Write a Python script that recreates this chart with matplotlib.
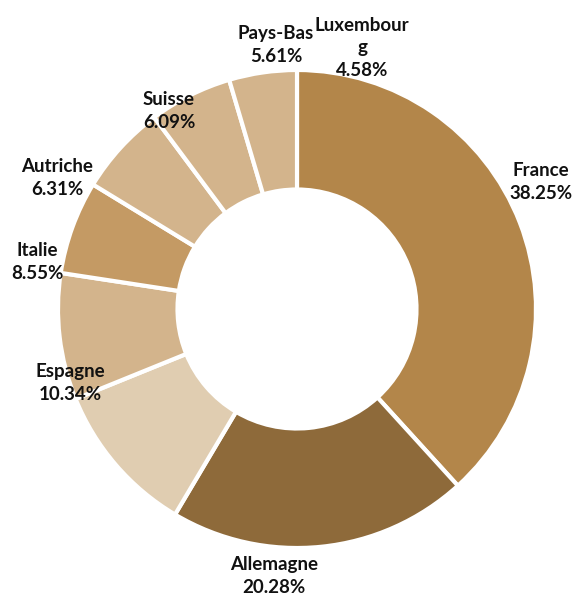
import matplotlib
matplotlib.use("Agg")
import matplotlib.pyplot as plt

countries = ["France", "Allemagne", "Espagne", "Italie", "Autriche", "Suisse", "Pays-Bas", "Luxembourg"]
shares = [38.25, 20.28, 10.34, 8.55, 6.31, 6.09, 5.61, 4.58]
label_text = ["France", "Allemagne", "Espagne", "Italie", "Autriche", "Suisse", "Pays-Bas", "Luxembour\ng"]
colors = ["#B3864A", "#8E6A3A", "#E0CDB1", "#D3B48C", "#C49A64", "#D3B48C", "#D3B48C", "#D3B48C"]
# label anchor positions, in pixels of the 579x600 image (y from top)
label_px = [(541, 182), (274, 576), (70, 383), (37, 262), (57, 178), (169, 111), (276, 45), (362, 48)]

W, H = 579, 600
fig = plt.figure(figsize=(W / 100, H / 100), dpi=100)
ax = fig.add_axes([0, 0, 1, 1])

R = 239
ax.pie(shares, colors=colors, startangle=90, counterclock=False, radius=R,
       center=(297, H - 309), frame=True,
       wedgeprops=dict(width=R * 0.5, edgecolor="white", linewidth=3))
ax.set_xlim(0, W); ax.set_ylim(0, H)
ax.set_aspect("equal")
ax.axis("off")

for name, v, (px, py) in zip(label_text, shares, label_px):
    ax.text(px, H - py, f"{name}\n{v:.2f}%", ha="center", va="center",
            fontsize=13.5, fontweight="bold", family="Lato", linespacing=1.4, color="#111111")

fig.savefig("out.png", dpi=100)
